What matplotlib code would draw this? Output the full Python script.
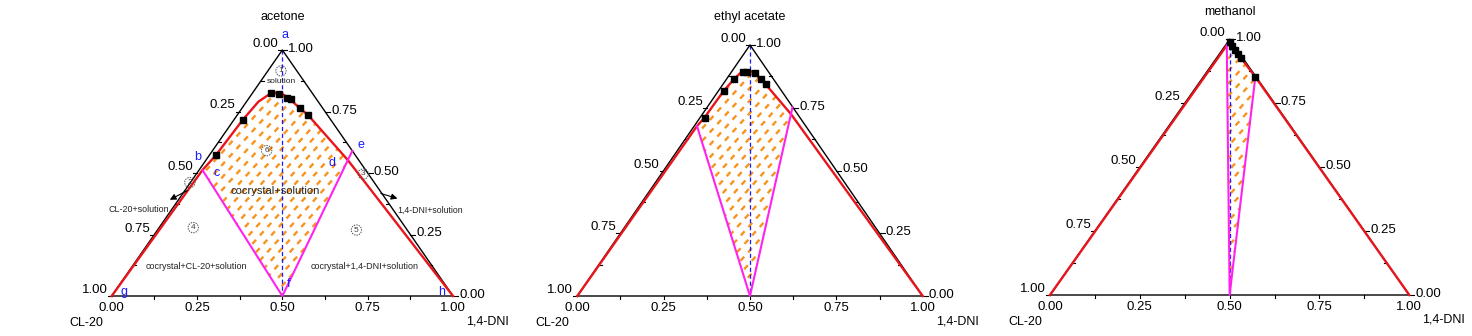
import numpy as np
import matplotlib
matplotlib.use('Agg')
import matplotlib.pyplot as plt
from matplotlib.patches import Polygon
from matplotlib.transforms import offset_copy

plt.rcParams['font.family'] = ['Liberation Sans', 'DejaVu Sans']
plt.rcParams['lines.scale_dashes'] = False

RED = '#e8161b'
MAGENTA = '#ff22ee'
ORANGE = '#f7931e'
BLUE = '#1a1aff'

# ---- data: compositions as (1,4-DNI fraction, solvent fraction) ----
solvents = ['acetone', 'ethyl acetate', 'methanol']

# acetone
ace_sq_dni = [0.054, 0.080, 0.111, 0.125, 0.170, 0.207, 0.026, 0.019]
ace_sq_sol = [0.824, 0.821, 0.806, 0.801, 0.763, 0.736, 0.717, 0.572]
ace_red_dni = [0.0, 0.010, 0.019, 0.026, 0.035, 0.054, 0.076, 0.109, 0.170, 0.207, 0.415, 1.0]
ace_red_sol = [0.0, 0.512, 0.572, 0.717, 0.790, 0.824, 0.828, 0.810, 0.763, 0.736, 0.553, 0.0]
ace_tie_dni = [0.010, 0.5, 0.410]   # b, f, e
ace_tie_sol = [0.512, 0.0, 0.590]

# ethyl acetate
eth_sq_dni = [0.032, 0.045, 0.070, 0.100, 0.124, 0.022, 0.015, 0.013]
eth_sq_sol = [0.894, 0.894, 0.887, 0.863, 0.843, 0.865, 0.817, 0.711]
eth_red_dni = [0.0, 0.008, 0.013, 0.015, 0.022, 0.030, 0.052, 0.070, 0.100, 0.124, 0.256, 1.0]
eth_red_sol = [0.0, 0.677, 0.711, 0.817, 0.865, 0.897, 0.897, 0.887, 0.863, 0.843, 0.725, 0.0]
eth_tie_dni = [0.008, 0.5, 0.247]
eth_tie_sol = [0.677, 0.0, 0.752]

# methanol
met_sq_dni = [0.005, 0.020, 0.037, 0.052, 0.067, 0.145]
met_sq_sol = [0.990, 0.975, 0.958, 0.943, 0.928, 0.853]
met_red_dni = [0.0, 0.004, 0.012, 0.070, 0.145, 1.0]
met_red_sol = [0.0, 0.978, 0.982, 0.925, 0.853, 0.0]
met_tie_dni = [0.003, 0.5, 0.145]
met_tie_sol = [0.978, 0.0, 0.853]

sq_dni = [ace_sq_dni, eth_sq_dni, met_sq_dni]
sq_sol = [ace_sq_sol, eth_sq_sol, met_sq_sol]
red_dni = [ace_red_dni, eth_red_dni, met_red_dni]
red_sol = [ace_red_sol, eth_red_sol, met_red_sol]
tie_dni = [ace_tie_dni, eth_tie_dni, met_tie_dni]
tie_sol = [ace_tie_sol, eth_tie_sol, met_tie_sol]
# which part of the red curve bounds the hatched (cocrystal+solution) field
hatch_from = [1, 1, 1]
hatch_to = [10, 10, 4]

tick_vals = [0.0, 0.25, 0.5, 0.75, 1.0]
tick_txt = ['0.00', '0.25', '0.50', '0.75', '1.00']

# annotations of the acetone panel (cartesian positions inside triangle)
point_names = ['a', 'b', 'c', 'd', 'e', 'f', 'g', 'h']
point_x = [0.507, 0.251, 0.307, 0.646, 0.730, 0.517, 0.036, 0.968]
point_y = [1.061, 0.566, 0.499, 0.539, 0.612, 0.049, 0.016, 0.016]
region_num = ['1', '6', '2', '3', '4', '5']
region_num_x = [0.496, 0.454, 0.229, 0.737, 0.239, 0.717]
region_num_y = [0.915, 0.591, 0.461, 0.496, 0.278, 0.268]
region_txt = ['solution', 'cocrystal+solution', 'CL-20+solution', '1,4-DNI+solution',
              'cocrystal+CL-20+solution', 'cocrystal+1,4-DNI+solution']
region_txt_x = [0.496, 0.478, 0.078, 0.932, 0.249, 0.741]
region_txt_y = [0.871, 0.427, 0.352, 0.347, 0.119, 0.119]
region_txt_fs = [6, 8, 6.4, 6.3, 6.5, 6.5]
arrow_tail = [(0.229, 0.434), (0.781, 0.420)]
arrow_head = [(0.163, 0.386), (0.845, 0.393)]

# panel placement in pixels (left, right, bottom, top of triangle)
pan_l = [111.7, 577.3, 1050.0]
pan_r = [453.0, 922.7, 1409.3]
pan_b = [296.0, 296.0, 295.0]
pan_t = [50.0, 45.0, 39.3]
title_y = [17, 17, 12]


def tern(dni, sol):
    dni = np.asarray(dni, float)
    sol = np.asarray(sol, float)
    return dni + sol / 2, sol


fig = plt.figure(figsize=(14.72, 3.36), dpi=100)

for i in range(3):
    W = pan_r[i] - pan_l[i]
    H = pan_b[i] - pan_t[i]
    ax = fig.add_axes([pan_l[i] / 1472, 1 - pan_b[i] / 336, W / 1472, H / 336])
    ax.set_xlim(0, 1)
    ax.set_ylim(0, 1)
    ax.axis('off')

    def off(dx, dy):
        return offset_copy(ax.transData, fig=fig, x=dx, y=dy, units='dots')

    # hatched field
    rx, ry = tern(red_dni[i], red_sol[i])
    tx, ty = tern(tie_dni[i], tie_sol[i])
    a, b = hatch_from[i], hatch_to[i]
    poly_x = list(rx[a:b + 1]) + [tx[1]]
    poly_y = list(ry[a:b + 1]) + [ty[1]]
    poly = Polygon(np.column_stack([poly_x, poly_y]), closed=True, fill=False,
                   edgecolor='none')
    ax.add_patch(poly)
    ang = np.tan(np.radians(48))
    xs_px = np.array([-20, W + 20])
    for c in np.arange(-W * ang, H + 20, 12.5):
        ln, = ax.plot(xs_px / W, (xs_px * ang + c) / H, color=ORANGE, lw=1.7,
                      ls=(0, (4.0, 4.2)), solid_capstyle='butt')
        ln.set_clip_path(poly)

    # blue dashed line from apex to equimolar point
    bx, by = tern([0.0, 0.5], [1.0, 0.0])
    ax.plot(bx, by, color=BLUE, lw=0.9, ls=(0, (3, 2)), zorder=3)

    # triangle frame
    ax.plot([0, 1, 0.5, 0], [0, 0, 1, 0], color='k', lw=1.0, clip_on=False, zorder=4)

    # solubility curve and tie lines
    ax.plot(rx, ry, color=RED, lw=1.7, zorder=5, clip_on=False)
    ax.plot(tx, ty, color=MAGENTA, lw=1.5, zorder=5, clip_on=False)
    sx, sy = tern(sq_dni[i], sq_sol[i])
    ax.plot(sx, sy, 's', color='k', ms=4.6, zorder=6, clip_on=False)

    # ticks
    for k in range(1, 8):
        v = k / 8
        ax.plot([v, v], [0, -3 / H], color='k', lw=0.8, clip_on=False)
    for k in range(9):
        v = k / 8
        lx, ly = 0.5 * (1 - v), 1 - v
        qx, qy = 1 - v / 2, v
        if k % 2 == 0:
            ax.plot([lx, lx - 4 / W], [ly, ly], color='k', lw=0.8, clip_on=False)
            ax.plot([qx, qx + 5 / W], [qy, qy], color='k', lw=0.8, clip_on=False)
        else:
            ax.plot([lx, lx + 3 / W], [ly, ly], color='k', lw=0.8, clip_on=False)
            ax.plot([qx, qx - 3 / W], [qy, qy], color='k', lw=0.8, clip_on=False)

    for v, t in zip(tick_vals, tick_txt):
        ax.text(v, 0, t, transform=off(0, -6), ha='center', va='top', fontsize=9.5)
        ax.text(0.5 * (1 - v), 1 - v, t, transform=off(-4, 0), ha='right',
                va='bottom', fontsize=9.5)
        ax.text(1 - v / 2, v, t, transform=off(6, 1), ha='left', va='center',
                fontsize=9.5)

    ax.text(0, 0, 'CL-20', transform=off(-8, -27), ha='right', va='center', fontsize=9)
    ax.text(1, 0, '1,4-DNI', transform=off(13, -25), ha='left', va='center', fontsize=9)
    fig.text((pan_l[i] + pan_r[i]) / 2 / 1472, 1 - title_y[i] / 336, solvents[i],
             ha='center', va='center', fontsize=9)

    if i == 0:
        for n, x, y in zip(point_names, point_x, point_y):
            ax.text(x, y, n, color=BLUE, fontsize=9, ha='center', va='center', zorder=7)
        for n, x, y in zip(region_num, region_num_x, region_num_y):
            ax.text(x, y, n, fontsize=6, color='0.25', ha='center', va='center', zorder=7,
                    bbox=dict(boxstyle='circle,pad=0.2', fc='none', ec='0.3',
                              ls=(0, (1, 0.8)), lw=0.7))
        for t, x, y, fs in zip(region_txt, region_txt_x, region_txt_y, region_txt_fs):
            ax.text(x, y, t, fontsize=fs, ha='center', va='center', color='#222222', zorder=7)
        for tail, head in zip(arrow_tail, arrow_head):
            ax.annotate('', xy=head, xytext=tail, zorder=7,
                        arrowprops=dict(arrowstyle='-|>', color='k', lw=0.8,
                                        mutation_scale=9))

fig.savefig('out.png', dpi=100)
